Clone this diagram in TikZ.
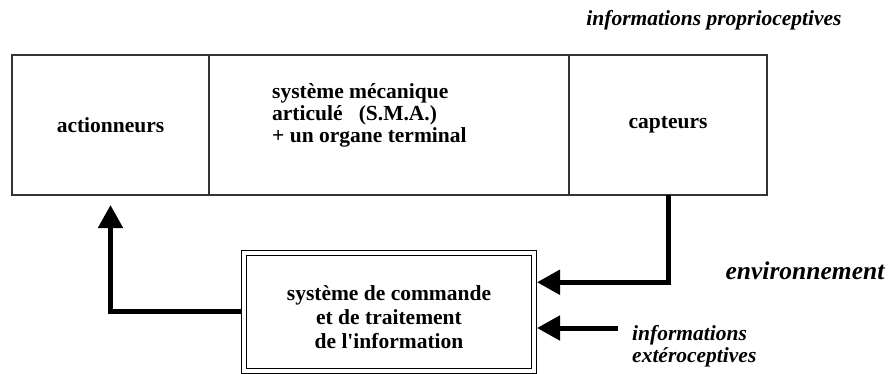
\documentclass[tikz,border=0pt]{standalone}
\usepackage{fontspec}
\setmainfont{Liberation Serif}
\usetikzlibrary{positioning,arrows.meta}

\def\rowheight{140}
\def\flowwidth{5pt}

\begin{document}
\begin{tikzpicture}[x=1pt,y=-1pt,
    cell/.style={draw=black!80,line width=1.2pt,minimum height=\rowheight pt,
      inner sep=0pt,outer sep=0pt,font=\bfseries\fontsize{21.5}{22}\selectfont},
    cmdbox/.style={draw,double,line width=1pt,double distance=4pt,outer sep=3pt,
      minimum width=290pt,minimum height=118.5pt},
    flow/.style={line width=\flowwidth,-{Triangle[length=23pt,width=24pt]}},
    info/.style={inner sep=0pt,font=\bfseries\itshape\fontsize{21.5}{22}\selectfont}]

  \useasboundingbox (0,0) rectangle (892,373);

  % rangee du haut
  \node[cell,minimum width=197pt] (act) at (110.5,125) {actionneurs};
  \node[cell,minimum width=360pt,right=0pt of act] (sma) {};
  \node[cell,minimum width=198pt,right=0pt of sma] (capt) {capteurs};
  \node[anchor=west,align=left,inner sep=0pt,
    font=\bfseries\fontsize{21.5}{22}\selectfont] (smatext)
    at ([xshift=63pt,yshift=10pt]sma.west)
    {système mécanique\\articulé \ \ (S.M.A.)\\+ un organe terminal};

  % commande
  \node[cmdbox] (cmd) at (389,311.75) {};
  \node[align=center,inner sep=0pt,font=\bfseries\fontsize{21.5}{24}\selectfont]
    (cmdtext) at ([yshift=-5pt]cmd.center)
    {système de commande\\et de traitement\\de l\textquotesingle information};

  % fleches
  \draw[flow] (cmd.west) -| ([yshift=-10pt]act.south);
  \draw[flow] (capt.south) |- ([yshift=29.5pt]cmd.east);
  \coordinate (exto) at (618,328);
  \draw[flow] (exto) -- (exto -| cmd.east);

  % textes
  \node[info] (proprio) at (714,20) {informations proprioceptives};
  \node[info,font=\bfseries\itshape\fontsize{25.5}{26}\selectfont] (env)
    at (805,271) {environnement};
  \node[info,anchor=west,align=left] (exttxt) at (632,346)
    {informations\\extéroceptives};
\end{tikzpicture}
\end{document}
